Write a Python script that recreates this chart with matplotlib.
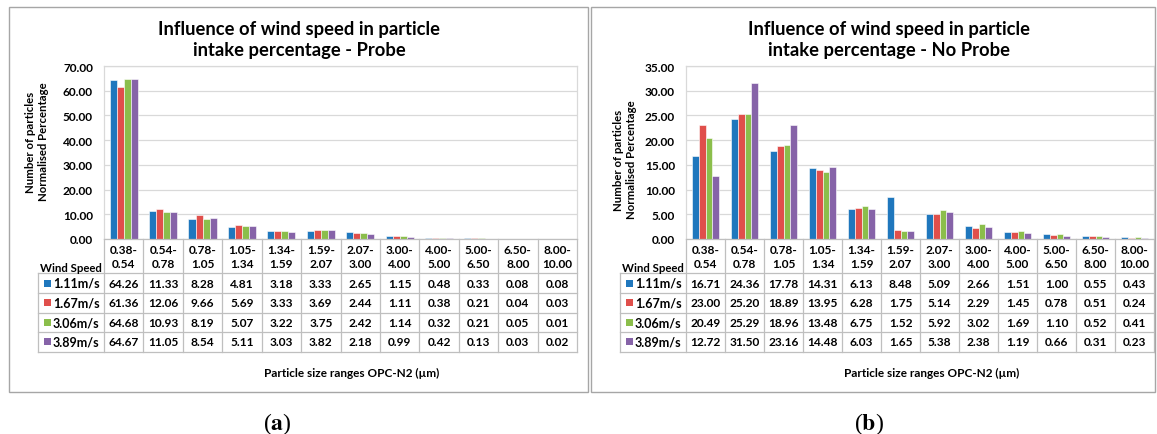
import matplotlib
matplotlib.use("Agg")
import matplotlib.pyplot as plt
from matplotlib.patches import Rectangle
import matplotlib.transforms as mtransforms
import numpy as np

plt.rcParams['font.family'] = ['Lato', 'DejaVu Sans']
plt.rcParams['mathtext.fontset'] = 'stix'

categories = ["0.38-\n0.54", "0.54-\n0.78", "0.78-\n1.05", "1.05-\n1.34", "1.34-\n1.59",
              "1.59-\n2.07", "2.07-\n3.00", "3.00-\n4.00", "4.00-\n5.00", "5.00-\n6.50",
              "6.50-\n8.00", "8.00-\n10.00"]
series_names = ["1.11m/s", "1.67m/s", "3.06m/s", "3.89m/s"]
colors = ["#1F77BD", "#E04F4B", "#8BBE4B", "#8663A8"]

probe_111 = [64.26, 11.33, 8.28, 4.81, 3.18, 3.33, 2.65, 1.15, 0.48, 0.33, 0.08, 0.08]
probe_167 = [61.36, 12.06, 9.66, 5.69, 3.33, 3.69, 2.44, 1.11, 0.38, 0.21, 0.04, 0.03]
probe_306 = [64.68, 10.93, 8.19, 5.07, 3.22, 3.75, 2.42, 1.14, 0.32, 0.21, 0.05, 0.01]
probe_389 = [64.67, 11.05, 8.54, 5.11, 3.03, 3.82, 2.18, 0.99, 0.42, 0.13, 0.03, 0.02]

noprobe_111 = [16.71, 24.36, 17.78, 14.31, 6.13, 8.48, 5.09, 2.66, 1.51, 1.00, 0.55, 0.43]
noprobe_167 = [23.00, 25.20, 18.89, 13.95, 6.28, 1.75, 5.14, 2.29, 1.45, 0.78, 0.51, 0.24]
noprobe_306 = [20.49, 25.29, 18.96, 13.48, 6.75, 1.52, 5.92, 3.02, 1.69, 1.10, 0.52, 0.41]
noprobe_389 = [12.72, 31.50, 23.16, 14.48, 6.03, 1.65, 5.38, 2.38, 1.19, 0.66, 0.31, 0.23]

yticks_a = [0, 10, 20, 30, 40, 50, 60, 70]
yticks_b = [0, 5, 10, 15, 20, 25, 30, 35]

W, H = 1157, 435
fig = plt.figure(figsize=(W / 100, H / 100), dpi=100)

def fx(x):
    return x / W

def fy(y):
    return 1 - y / H

# panel borders
for (x0, y0, x1, y1) in [(9, 8, 588, 393), (591, 8, 1155, 393)]:
    fig.patches.append(Rectangle((fx(x0), fy(y1)), fx(x1 - x0), (y1 - y0) / H,
                                 transform=fig.transFigure, fill=False,
                                 edgecolor="#A6A6A6", linewidth=1.0))

TOP, BOT = 67, 240
grid_c = "#D9D9D9"
line_c = "#BFBFBF"
FS = 8.6

def draw_panel(L, R, series, yticks, ymax, title, title_x, ylab_x, ylab_y, xlab_x, letter, letter_x):
    ax = fig.add_axes([fx(L), fy(BOT), fx(R - L), (BOT - TOP) / H])
    n = len(categories)
    x = np.arange(n)
    bw = 0.714 / 4
    for k, (vals, c) in enumerate(zip(series, colors)):
        ax.bar(x + (k - 1.5) * bw, vals, width=bw, color=c, edgecolor="white", linewidth=0.4)
    ax.set_xlim(-0.5, n - 0.5)
    ax.set_ylim(0, ymax)
    ax.set_yticks(yticks)
    ax.set_yticklabels([f"{v:.2f}" for v in yticks], fontsize=FS, fontweight="bold")
    ax.tick_params(axis="y", length=0, pad=8)
    ax.set_xticks([])
    ax.grid(axis="y", color=grid_c, linewidth=0.9)
    ax.set_axisbelow(True)
    for s in ["left", "top", "right"]:
        ax.spines[s].set_color(grid_c)
        ax.spines[s].set_linewidth(0.9)
    ax.spines["bottom"].set_color(line_c)
    ax.spines["bottom"].set_linewidth(0.9)

    ph = BOT - TOP
    def yf(py):
        return (BOT - py) / ph
    trans = mtransforms.blended_transform_factory(ax.transData, ax.transAxes)
    colw = (R - L) / n
    labw = 66 / colw
    xl = -0.5 - labw
    row_lines = [274, 294, 313.5, 333, 352.5]
    for py in row_lines:
        ax.plot([xl, n - 0.5], [yf(py)] * 2, color=line_c, lw=0.9, transform=trans, clip_on=False)
    for i in range(n + 1):
        ax.plot([i - 0.5] * 2, [yf(BOT), yf(352.5)], color=line_c, lw=0.9, transform=trans, clip_on=False)
    ax.plot([xl] * 2, [yf(274), yf(352.5)], color=line_c, lw=0.9, transform=trans, clip_on=False)

    for i, cat in enumerate(categories):
        ax.text(i, yf(257.5), cat, transform=trans, ha="center", va="center",
                fontsize=FS, fontweight="bold", linespacing=1.25, clip_on=False)
    ax.text(-0.5 - labw / 2, yf(268), "Wind Speed", transform=trans, ha="center", va="center",
            fontsize=8.2, fontweight="bold", clip_on=False)
    for r, (vals, c, name) in enumerate(zip(series, colors, series_names)):
        yc = (row_lines[r] + row_lines[r + 1]) / 2
        sq = 7 / colw
        ax.add_patch(Rectangle((xl + 6 / colw, yf(yc + 3.5)), sq, 7 / ph, transform=trans,
                               facecolor=c, edgecolor="none", clip_on=False))
        ax.text(xl + 15 / colw, yf(yc), name, transform=trans, ha="left", va="center",
                fontsize=FS + 0.4, fontweight="bold", clip_on=False)
        for i, v in enumerate(vals):
            ax.text(i, yf(yc), f"{v:.2f}", transform=trans, ha="center", va="center",
                    fontsize=FS, fontweight="bold", clip_on=False)

    fig.text(fx(title_x), fy(40), title, ha="center", va="center", fontsize=13.2,
             fontweight="bold", linespacing=1.25)
    fig.text(fx(ylab_x), fy(ylab_y), "Number of particles\nNormalised Percentage", rotation=90,
             ha="center", va="center", fontsize=8.2, fontweight="bold", linespacing=1.2)
    fig.text(fx(xlab_x), fy(373), "Particle size ranges OPC-N2 (µm)", ha="center", va="center",
             fontsize=8.5, fontweight="bold")
    fig.text(fx(letter_x), fy(424), r"($\mathbf{" + letter + r"}$)", ha="center", va="center",
             fontsize=17, family=["Liberation Serif", "DejaVu Serif"])
    return ax

draw_panel(104, 577, [probe_111, probe_167, probe_306, probe_389], yticks_a, 70,
           "Influence of wind speed in particle\nintake percentage - Probe",
           299, 37, 142, 352, "a", 277)
draw_panel(686, 1154, [noprobe_111, noprobe_167, noprobe_306, noprobe_389], yticks_b, 35,
           "Influence of wind speed in particle\nintake percentage - No Probe",
           889, 625, 160, 932, "b", 869)

fig.savefig("out.png", dpi=100)
